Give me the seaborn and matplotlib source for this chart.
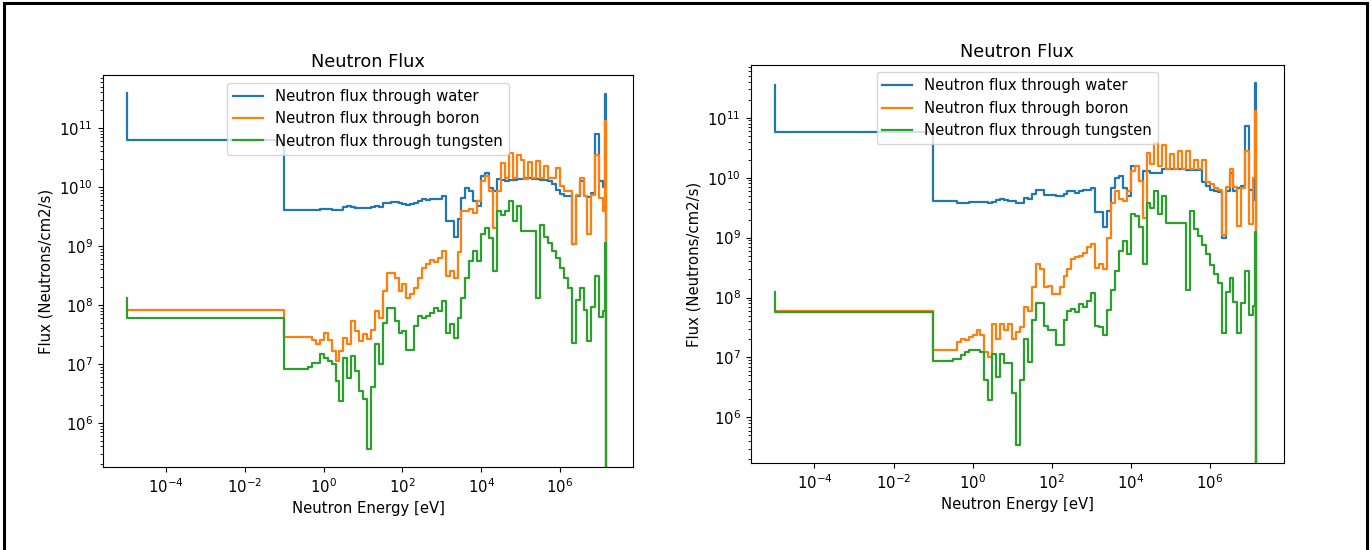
import numpy as np
import matplotlib
matplotlib.use("Agg")
import matplotlib.pyplot as plt
import seaborn as sns
from matplotlib.patches import Rectangle

# bin edges, log10(E / eV); the flux drops to zero after the last edge
log_energy = [-5.0, -1.0,
    -0.9, -0.8, -0.7, -0.6, -0.5, -0.4, -0.3, -0.2, -0.1, 0.0,
    0.1, 0.2, 0.3, 0.4, 0.5, 0.6, 0.7, 0.8, 0.9, 1.0,
    1.1, 1.2, 1.3, 1.4, 1.5, 1.6, 1.7, 1.8, 1.9, 2.0,
    2.1, 2.2, 2.3, 2.4, 2.5, 2.6, 2.7, 2.8, 2.9, 3.0,
    3.1, 3.2, 3.3, 3.4, 3.5, 3.6, 3.7, 3.8, 3.9, 4.0,
    4.1, 4.2, 4.3, 4.4, 4.5, 4.6, 4.7, 4.8, 4.9, 5.0,
    5.1, 5.2, 5.3, 5.4, 5.5, 5.6, 5.7, 5.8, 5.9, 6.0,
    6.1, 6.2, 6.3, 6.4, 6.5, 6.6, 6.7, 6.8, 6.9, 7.0,
    7.1, 7.152, 7.176, 7.255]

# log10 flux per bin (steps-pre), left picture
water_1 = [11.59, 10.80,
    9.61, 9.61, 9.61, 9.61, 9.61, 9.61, 9.61, 9.61, 9.61, 9.62,
    9.62, 9.63, 9.61, 9.61, 9.61, 9.66, 9.67, 9.66, 9.65, 9.65,
    9.65, 9.65, 9.66, 9.67, 9.66, 9.72, 9.73, 9.75, 9.74, 9.72,
    9.71, 9.69, 9.71, 9.73, 9.77, 9.79, 9.78, 9.79, 9.80, 9.80,
    9.84, 9.42, 9.42, 9.15, 9.45, 9.82, 9.99, 9.93, 9.76, 9.68,
    10.19, 10.23, 9.99, 9.93, 10.13, 10.12, 10.10, 10.11, 10.12, 10.13,
    10.14, 10.15, 10.15, 10.14, 10.13, 10.12, 10.12, 10.10, 10.05, 9.95,
    9.88, 9.85, 9.85, 9.03, 9.85, 10.10, 9.84, 9.83, 9.90, 10.89,
    10.10, 10.00, 11.58]
boron_1 = [7.93, 7.92,
    7.46, 7.46, 7.46, 7.46, 7.46, 7.46, 7.46, 7.41, 7.33, 7.41,
    7.53, 7.41, 7.22, 7.05, 7.22, 7.44, 7.33, 7.73, 7.56, 7.39,
    7.50, 7.42, 7.57, 7.89, 7.78, 8.23, 8.54, 8.54, 8.46, 8.23,
    8.35, 8.12, 8.18, 8.29, 8.46, 8.63, 8.69, 8.77, 8.72, 8.80,
    8.91, 8.49, 8.57, 8.46, 8.90, 9.59, 9.59, 9.62, 9.56, 9.76,
    10.10, 10.19, 9.93, 9.31, 9.93, 10.41, 10.16, 10.58, 10.16, 10.55,
    10.45, 10.13, 10.42, 10.15, 10.44, 10.16, 10.35, 10.16, 10.16, 10.33,
    10.02, 9.93, 9.93, 9.03, 9.87, 10.16, 9.85, 9.20, 9.87, 10.55,
    9.82, 9.59, 11.12]
tungsten_1 = [8.11, 7.78,
    6.905, 6.905, 6.905, 6.905, 6.905, 6.905, 6.95, 7.02, 7.02, 7.16,
    7.10, 7.05, 6.99, 6.71, 6.37, 7.10, 6.76, 7.13, 6.88, 6.54,
    6.40, 5.55, 6.60, 7.33, 6.99, 7.70, 7.95, 7.95, 7.73, 7.53,
    7.56, 7.23, 7.23, 7.64, 7.81, 7.78, 7.81, 7.87, 7.95, 7.89,
    8.07, 7.53, 7.67, 7.44, 7.78, 8.12, 8.46, 8.74, 8.91, 8.74,
    9.20, 9.31, 9.14, 8.57, 9.59, 9.53, 9.59, 9.76, 9.42, 9.68,
    9.25, 9.25, 9.25, 9.25, 8.12, 9.35, 9.15, 9.05, 8.92, 8.80,
    8.62, 8.45, 8.28, 7.35, 8.08, 8.29, 7.92, 7.39, 7.97, 8.49,
    7.80, 7.90, 9.05]

# right picture
water_2 = [11.55, 10.77,
    9.61, 9.61, 9.61, 9.61, 9.61, 9.61, 9.58, 9.58, 9.58, 9.60,
    9.60, 9.60, 9.60, 9.60, 9.58, 9.60, 9.62, 9.64, 9.62, 9.61,
    9.61, 9.58, 9.58, 9.66, 9.64, 9.72, 9.79, 9.79, 9.71, 9.71,
    9.71, 9.69, 9.69, 9.73, 9.77, 9.77, 9.75, 9.78, 9.79, 9.79,
    9.82, 9.42, 9.42, 9.17, 9.45, 9.83, 9.99, 10.03, 9.83, 9.69,
    10.19, 10.19, 9.94, 10.11, 10.11, 10.08, 10.08, 10.08, 10.14, 10.14,
    10.14, 10.14, 10.14, 10.14, 10.13, 10.13, 10.13, 10.13, 9.92, 9.86,
    9.80, 9.77, 9.76, 9.00, 9.77, 10.08, 9.77, 9.83, 9.86, 10.86,
    9.80, 9.62, 11.58]
boron_2 = [7.78, 7.78,
    7.12, 7.12, 7.12, 7.12, 7.12, 7.12, 7.26, 7.31, 7.29, 7.34,
    7.37, 7.45, 7.37, 7.09, 7.01, 7.56, 7.31, 7.55, 7.45, 7.56,
    7.31, 7.42, 7.51, 7.84, 7.78, 8.17, 8.56, 8.48, 8.17, 8.20,
    8.06, 8.06, 8.17, 8.36, 8.48, 8.64, 8.67, 8.70, 8.75, 8.85,
    8.89, 8.50, 8.56, 8.48, 9.00, 9.58, 9.78, 9.64, 9.61, 9.78,
    10.11, 10.19, 9.94, 9.33, 10.41, 10.22, 10.58, 10.19, 10.55, 10.15,
    10.40, 10.15, 10.44, 10.14, 10.45, 10.15, 10.30, 10.14, 10.30, 9.93,
    9.89, 9.83, 9.80, 9.05, 9.85, 10.14, 9.85, 9.20, 9.82, 10.45,
    9.22, 10.00, 11.12]
tungsten_2 = [8.09, 7.76,
    6.94, 6.94, 6.94, 6.94, 6.94, 6.98, 6.98, 7.04, 7.09, 7.12,
    7.12, 7.13, 7.09, 6.62, 6.29, 7.06, 6.68, 7.06, 6.90, 6.90,
    6.40, 5.54, 6.62, 7.31, 6.93, 7.62, 7.90, 7.90, 7.53, 7.45,
    7.45, 7.20, 7.20, 7.62, 7.78, 7.81, 7.76, 7.89, 7.84, 7.95,
    8.07, 7.53, 7.51, 7.37, 7.79, 8.12, 8.45, 8.78, 8.95, 8.73,
    9.39, 9.36, 9.17, 8.56, 9.58, 9.50, 9.78, 9.39, 9.69, 9.25,
    9.25, 9.25, 9.25, 9.25, 8.12, 9.45, 9.15, 9.02, 8.88, 8.72,
    8.55, 8.40, 8.25, 7.40, 8.10, 8.32, 7.92, 7.40, 7.90, 8.45,
    7.70, 7.85, 9.09]

labels = ["Neutron flux through water", "Neutron flux through boron",
          "Neutron flux through tungsten"]
colors = ["#1f77b4", "#ff7f0e", "#2ca02c"]
xtick_vals = [1e-4, 1e-2, 1e0, 1e2, 1e4, 1e6]

energy = 10.0 ** np.array(log_energy)


def flux(vals):
    # last bin is empty -> zero
    return np.append(10.0 ** np.array(vals), 0.0)


# screenshot is a slightly enlarged default-style figure
plt.rcParams["font.size"] = 10.7
plt.rcParams["xtick.major.size"] = 3.7
plt.rcParams["ytick.major.size"] = 3.7
plt.rcParams["ytick.minor.size"] = 2.1

fig = plt.figure(figsize=(13.72, 5.5), dpi=100)
W, H = 1372, 550
ax1 = fig.add_axes([102.8 / W, 1 - 467.2 / H, 530.6 / W, 391.8 / H])
ax2 = fig.add_axes([750.7 / W, 1 - 463.0 / H, 532.9 / W, 398.1 / H])

for ax, series in [(ax1, [water_1, boron_1, tungsten_1]),
                   (ax2, [water_2, boron_2, tungsten_2])]:
    for vals, lab, col in zip(series, labels, colors):
        sns.lineplot(x=energy, y=flux(vals), ax=ax, color=col, label=lab,
                     estimator=None, sort=False, drawstyle="steps-pre",
                     linewidth=1.6)
    ax.set_xscale("log")
    ax.set_yscale("log")
    ax.set_xticks(xtick_vals)
    ax.set_title("Neutron Flux", fontsize=12.8)
    ax.set_xlabel("Neutron Energy [eV]")
    ax.set_ylabel("Flux (Neutrons/cm2/s)")
    ax.legend(loc="upper center")

# screenshot frame
fig.add_artist(Rectangle((4 / W, -0.05), 1363 / W, 547 / H + 0.05,
                         transform=fig.transFigure, fill=False,
                         edgecolor="black", linewidth=2.2))

fig.savefig("out.png", dpi=100)
